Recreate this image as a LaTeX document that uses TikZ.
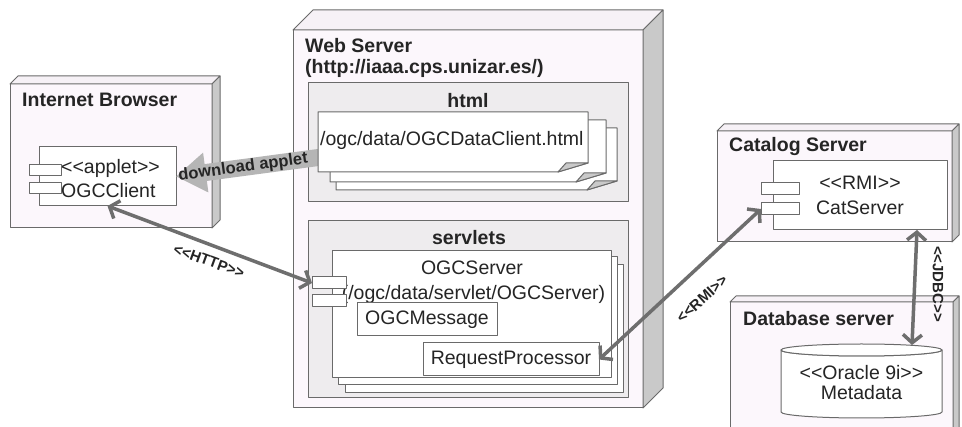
\documentclass[tikz,border=0pt]{standalone}
\usepackage{fontspec}
\newfontfamily\umlfont{Liberation Sans}
\usetikzlibrary{arrows.meta}
\definecolor{edgegray}{HTML}{6A6A6A}
\definecolor{frontfill}{HTML}{FCF7FC}
\definecolor{topfill}{HTML}{F6F1F6}
\definecolor{sidefill}{HTML}{C9C9C9}
\definecolor{pkgfill}{HTML}{EEECEE}
\definecolor{linkgray}{HTML}{6E6E6E}
\definecolor{dlgray}{HTML}{B5B5B5}
\definecolor{inkgray}{HTML}{252525}

\begin{document}
\begin{tikzpicture}[x=1pt,y=-1pt,line join=round,
    every node/.style={font=\umlfont\fontsize{19.5}{21}\selectfont,text=inkgray},
    front/.style={draw=edgegray,fill=frontfill,line width=1pt,inner sep=0pt,outer sep=0pt,anchor=north west},
    pkg/.style={front,fill=pkgfill},
    comp/.style={front,fill=white},
    face/.style={draw=edgegray,line width=1pt},
    title/.style={font=\umlfont\bfseries\fontsize{19.5}{21}\selectfont,inner sep=0pt},
    link/.style={draw=linkgray,line width=3.5pt,>={Straight Barb[length=8pt,width=19pt]},<->},
    linklabel/.style={font=\umlfont\bfseries\fontsize{15}{17}\selectfont,inner sep=0pt},
    dlarrow/.style={draw=dlgray,line width=17pt,-{Triangle[length=30pt,width=38pt]}},
    dltext/.style={font=\umlfont\bfseries\fontsize{16.5}{18}\selectfont,inner sep=0pt,text=inkgray}]
  \useasboundingbox (0,0) rectangle (962,427);
  \fill[white] (0,0) rectangle (962,427);

  \node[front,minimum width=202,minimum height=144] (ib) at (10,84) {};
  \node[front,minimum width=350,minimum height=378] (ws) at (293,30) {};
  \node[front,minimum width=235,minimum height=111] (cs) at (717,131) {};
  \node[front,minimum width=223,minimum height=140] (dbs) at (730,302) {};
  \foreach \n/\off in {ib/8,ws/20,cs/7,dbs/6}{
    \draw[face,fill=topfill] (\n.north west) -- ++(\off,-\off) -- ([shift={(\off,-\off)}]\n.north east) -- (\n.north east) -- cycle;
    \draw[face,fill=sidefill] (\n.north east) -- ++(\off,-\off) -- ([shift={(\off,-\off)}]\n.south east) -- (\n.south east) -- cycle;
  }
  \node[title,anchor=base west] (ibtitle) at (22,107) {Internet Browser};
  \node[title,anchor=north west,align=left] (wstitle) at (305,38) {Web Server\\(http://iaaa.cps.unizar.es/)};
  \node[title,anchor=base west] (cstitle) at (729,152) {Catalog Server};
  \node[title,anchor=base west] (dbstitle) at (743,326) {Database server};

  \node[pkg,minimum width=320,minimum height=119] (html) at (308,83) {};
  \node[title,anchor=base] (htmltitle) at (468,108) {html};
  \node[pkg,minimum width=320,minimum height=177] (servlets) at (308,221) {};
  \node[title,anchor=base] (servletstitle) at (469,245) {servlets};

  \node[comp,minimum width=137,minimum height=59] (applet) at (39,147) {};
  \node[anchor=north west,inner sep=0pt,align=left,font=\umlfont\fontsize{19.5}{24}\selectfont] (appletname) at (61,159) {<<applet>>\\OGCClient};
  \node[comp,minimum width=32,minimum height=11] (apicona) at (29,165) {};
  \node[comp,minimum width=32,minimum height=11] (apiconb) at (29,183) {};

  \coordinate (dlfrom) at (322,157);
  \draw[dlarrow] (dlfrom) -- (applet.east) node[pos=0.54,sloped,dltext] (dllabel) {download applet};

  \foreach \xa/\ya/\xb/\yb in {336/128/617/190,330/120/606/182,318/112/588/172}{
    \draw[face,fill=white] (\xa,\ya) -- (\xb,\ya) -- (\xb,\yb-9) -- (\xb-30,\yb) -- (\xa,\yb) -- cycle;
    \draw[face,fill=sidefill] (\xb,\yb-9) -- (\xb-30,\yb) -- (\xb-22,\yb-9) -- cycle;
  }
  \node[anchor=base west,inner sep=0pt] (pagetext) at (320,146) {/ogc/data/OGCDataClient.html};

  \node[comp,minimum width=278,minimum height=128] (srv3) at (345,265) {};
  \node[comp,minimum width=279,minimum height=128] (srv2) at (338,257) {};
  \node[comp,minimum width=279,minimum height=127] (srv1) at (332,251) {};
  \node[anchor=base,inner sep=0pt] (srvname) at (472,275) {OGCServer};
  \node[anchor=base,inner sep=0pt] (srvpath) at (473.5,300) {(/ogc/data/servlet/OGCServer)};
  \node[comp,minimum width=34,minimum height=12] (srvicona) at (312,277) {};
  \node[comp,minimum width=34,minimum height=12] (srviconb) at (312,295) {};
  \node[comp,minimum width=140,minimum height=33] (msg) at (357,303) {OGCMessage};
  \node[comp,minimum width=176,minimum height=33] (rp) at (423,343) {RequestProcessor};

  \node[comp,minimum width=174,minimum height=69] (catsrv) at (773,161) {};
  \node[anchor=north,inner sep=0pt,align=center,font=\umlfont\fontsize{19.5}{25}\selectfont] (catname) at (860,176) {<<RMI>>\\CatServer};
  \node[comp,minimum width=38,minimum height=12] (caticona) at (761,183) {};
  \node[comp,minimum width=38,minimum height=12] (caticonb) at (761,203) {};

  \draw[face,fill=white] (781,350) -- (781,412) arc[start angle=180,end angle=0,x radius=80.5,y radius=6] -- (942,350) arc[start angle=0,end angle=180,x radius=80.5,y radius=6] -- cycle;
  \draw[face,fill=white] (861.5,350) ellipse[x radius=80.5,y radius=6];
  \node[anchor=north,inner sep=0pt,align=center,font=\umlfont\fontsize{19.5}{20}\selectfont] (oracle) at (861.5,365) {<<Oracle 9i>>\\Metadata};
  \coordinate (dbtop) at (912,345);

  \draw[link] (applet.south) -- (srvicona.west);
  \node[linklabel,rotate=-20] (httplabel) at (209,261) {<<HTTP>>};
  \draw[link] (rp.east) -- (caticonb.west);
  \node[linklabel,rotate=42] (rmilabel) at (702,299) {<<RMI>>};
  \draw[link] ([xshift=-30pt]catsrv.south east) -- (dbtop);
  \node[linklabel,rotate=-90] (jdbclabel) at (938,284) {<<JDBC>>};
\end{tikzpicture}
\end{document}
